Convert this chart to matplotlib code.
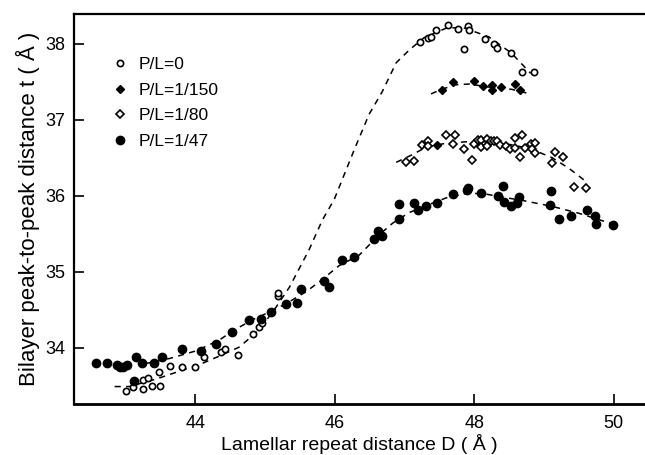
import matplotlib
matplotlib.use("Agg")
import matplotlib.pyplot as plt

plt.rcParams['font.family'] = ['Liberation Sans', 'DejaVu Sans']

# P/L = 0 (open circles)
d0 = [43.01, 43.11, 43.25, 43.25, 43.32, 43.37, 43.49, 43.48, 43.63, 43.81,
      44.00, 44.12, 44.37, 44.43, 44.61, 44.83, 44.91, 44.96, 45.18, 45.19,
      47.22, 47.34, 47.38, 47.45, 47.62, 47.76, 47.91, 47.93, 47.85, 48.15,
      48.28, 48.32, 48.53, 48.69, 48.86]
t0 = [33.43, 33.48, 33.46, 33.58, 33.60, 33.50, 33.50, 33.68, 33.76, 33.75,
      33.75, 33.88, 33.95, 33.99, 33.91, 34.18, 34.27, 34.32, 34.68, 34.72,
      38.02, 38.08, 38.09, 38.18, 38.25, 38.20, 38.23, 38.18, 37.93, 38.06,
      38.00, 37.95, 37.88, 37.63, 37.63]

# P/L = 1/150 (filled diamonds)
d150 = [47.53, 47.69, 48.00, 48.12, 48.26, 48.25, 48.39, 48.59, 48.66, 47.47]
t150 = [37.39, 37.50, 37.51, 37.44, 37.46, 37.39, 37.43, 37.47, 37.39, 36.67]

# P/L = 1/80 (open diamonds)
d80 = [47.02, 47.13, 47.25, 47.34, 47.33, 47.60, 47.72, 47.69, 47.86, 47.97,
       47.99, 48.06, 48.10, 48.09, 48.18, 48.18, 48.24, 48.29, 48.33, 48.37,
       48.45, 48.52, 48.58, 48.59, 48.68, 48.66, 48.73, 48.81, 48.87, 48.83,
       48.87, 49.16, 49.12, 49.28, 49.43, 49.60]
t80 = [36.44, 36.46, 36.67, 36.72, 36.65, 36.80, 36.80, 36.68, 36.61, 36.47,
       36.68, 36.74, 36.74, 36.64, 36.75, 36.65, 36.72, 36.72, 36.72, 36.67,
       36.66, 36.61, 36.76, 36.63, 36.80, 36.51, 36.63, 36.68, 36.69, 36.62,
       36.56, 36.57, 36.43, 36.51, 36.11, 36.10]

# P/L = 1/47 (filled circles)
d47 = [42.57, 42.73, 42.87, 42.91, 42.96, 43.02, 43.14, 43.12, 43.23, 43.40,
       43.52, 43.81, 44.08, 44.30, 44.52, 44.77, 44.94, 45.08, 45.30, 45.46,
       45.52, 45.84, 45.91, 46.10, 46.27, 46.56, 46.68, 46.62, 46.92, 46.92,
       47.13, 47.19, 47.31, 47.47, 47.70, 47.89, 47.91, 48.10, 48.34, 48.41,
       48.43, 48.53, 48.62, 48.64, 49.08, 49.10, 49.21, 49.39, 49.62, 49.73,
       49.75, 49.99]
t47 = [33.80, 33.80, 33.77, 33.75, 33.75, 33.78, 33.88, 33.56, 33.80, 33.80,
       33.88, 33.98, 33.96, 34.05, 34.21, 34.37, 34.38, 34.47, 34.57, 34.59,
       34.77, 34.88, 34.80, 35.15, 35.20, 35.43, 35.47, 35.54, 35.70, 35.89,
       35.91, 35.81, 35.87, 35.91, 36.02, 36.07, 36.10, 36.04, 36.00, 36.13,
       35.92, 35.87, 35.91, 35.99, 35.88, 36.06, 35.69, 35.73, 35.81, 35.73,
       35.63, 35.62]

# hand-drawn guide curves
c0_d = [42.84, 43.05, 43.44, 43.73, 44.06, 44.34, 44.63, 44.92, 45.16, 45.35,
        45.63, 45.82, 45.99, 46.28, 46.49, 46.68, 46.88, 47.07, 47.28, 47.61,
        47.85, 48.21, 48.53, 48.81]
c0_t = [33.49, 33.49, 33.59, 33.68, 33.78, 33.89, 34.01, 34.24, 34.54, 34.80,
        35.29, 35.68, 35.95, 36.61, 37.07, 37.37, 37.75, 37.92, 38.08, 38.21,
        38.21, 38.09, 37.88, 37.61]

c150_d = [47.38, 47.53, 47.73, 47.93, 48.21, 48.54, 48.76]
c150_t = [37.34, 37.40, 37.46, 37.47, 37.43, 37.40, 37.35]

c80_d = [46.88, 47.11, 47.31, 47.59, 47.88, 48.16, 48.55, 48.83, 49.12, 49.36, 49.60]
c80_t = [36.44, 36.54, 36.64, 36.69, 36.71, 36.71, 36.67, 36.61, 36.50, 36.36, 36.19]

c47_d = [43.27, 43.63, 44.01, 44.34, 44.53, 44.82, 45.06, 45.30, 45.59, 45.78,
         46.06, 46.35, 46.64, 46.83, 47.07, 47.31, 47.59, 47.88, 48.12, 48.36,
         48.74, 49.12, 49.50, 49.98]
c47_t = [33.79, 33.86, 33.96, 34.10, 34.22, 34.37, 34.47, 34.58, 34.74, 34.87,
         35.08, 35.22, 35.49, 35.64, 35.78, 35.87, 35.97, 36.03, 36.03, 35.99,
         35.93, 35.86, 35.77, 35.63]

fig = plt.figure(figsize=(6.45, 4.55), dpi=100)
ax = fig.add_axes([0.114, 0.112, 0.886, 0.857])

dash = dict(color='black', lw=1.1, ls=(0, (4, 3.5)))
ax.plot(c0_d, c0_t, **dash)
ax.plot(c150_d, c150_t, **dash)
ax.plot(c80_d, c80_t, **dash)
ax.plot(c47_d, c47_t, **dash)

ax.plot(d0, t0, 'o', ms=4.5, mfc='white', mec='black', mew=1.2, label='P/L=0')
ax.plot(d150, t150, 'D', ms=3.9, mfc='black', mec='black', label='P/L=1/150')
ax.plot(d80, t80, 'D', ms=3.9, mfc='white', mec='black', mew=1.2, label='P/L=1/80')
ax.plot(d47, t47, 'o', ms=6.0, mfc='black', mec='black', label='P/L=1/47')

ax.set_xlim(42.25, 50.45)
ax.set_ylim(33.26, 38.39)
ax.set_xticks([44, 46, 48, 50])
ax.set_yticks([34, 35, 36, 37, 38])
ax.tick_params(direction='in', length=7, width=1.2, labelsize=13, pad=8)
ax.tick_params(axis='y', pad=6)

ax.spines['right'].set_visible(False)
ax.spines['bottom'].set_linewidth(2.0)
ax.spines['left'].set_linewidth(1.6)
ax.spines['top'].set_linewidth(1.6)

ax.set_xlabel('Lamellar repeat distance D ( Å )', fontsize=14, labelpad=1)
ax.set_ylabel('Bilayer peak-to-peak distance t ( Å )', fontsize=16, labelpad=4)

ax.legend(loc='upper left', bbox_to_anchor=(0.035, 0.93), frameon=False,
          fontsize=12.5, handletextpad=0.5, labelspacing=0.6, handlelength=1.2)

fig.savefig('out.png', dpi=100)
